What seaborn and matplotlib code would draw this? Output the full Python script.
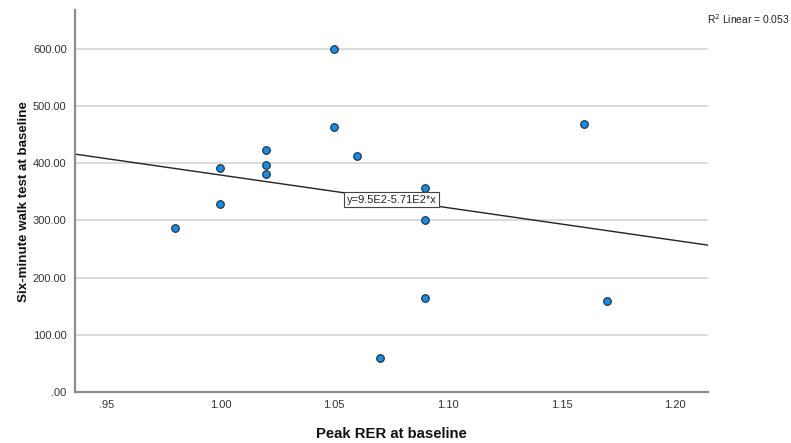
import numpy as np
import pandas as pd
import matplotlib
matplotlib.use("Agg")
import matplotlib.pyplot as plt
import seaborn as sns

# Peak RER vs six-minute walk distance at baseline
peak_rer = [0.98, 1.00, 1.00, 1.02, 1.02, 1.02, 1.05, 1.05, 1.06, 1.07, 1.09, 1.09, 1.09, 1.16, 1.17]
walk_6min = [287, 391, 328, 423, 396, 380, 600, 463, 413, 59, 356, 300, 165, 469, 159]

# Linear fit as reported
fit_intercept = 950.0
fit_slope = -571.0
r2_linear = 0.053

x_ticks = [0.95, 1.00, 1.05, 1.10, 1.15, 1.20]
x_tick_labels = [".95", "1.00", "1.05", "1.10", "1.15", "1.20"]
y_ticks = [0, 100, 200, 300, 400, 500, 600]
y_tick_labels = [".00", "100.00", "200.00", "300.00", "400.00", "500.00", "600.00"]

df = pd.DataFrame({"Peak RER at baseline": peak_rer,
                   "Six-minute walk test at baseline": walk_6min})

sns.set_theme(style="white")
plt.rcParams["font.family"] = ["Liberation Sans", "DejaVu Sans"]

fig = plt.figure(figsize=(7.91, 4.43), dpi=100)
ax = fig.add_axes([0.0948, 0.1151, 0.8003, 0.862])

xlim = (0.936, 1.2145)
ylim = (0, 667)
ax.set_xlim(*xlim)
ax.set_ylim(*ylim)

for yt in y_ticks[1:]:
    ax.axhline(yt, color="#d9d9d9", lw=1.3, zorder=0)

xs = np.array(xlim)
ax.plot(xs, fit_intercept + fit_slope * xs, color="#222222", lw=1.0, zorder=2)

sns.scatterplot(data=df, x="Peak RER at baseline", y="Six-minute walk test at baseline",
                ax=ax, s=30, color="#1a8be0", edgecolor="#1c2a3a", linewidth=0.8, zorder=3)

lx = 1.0753
ax.text(lx, fit_intercept + fit_slope * lx, "y=9.5E2-5.71E2*x", ha="center", va="center",
        fontsize=8, color="#222222", zorder=4,
        bbox=dict(boxstyle="square,pad=0.25", fc="white", ec="#444444", lw=0.8))

ax.set_xticks(x_ticks)
ax.set_xticklabels(x_tick_labels)
ax.set_yticks(y_ticks)
ax.set_yticklabels(y_tick_labels)
ax.tick_params(axis="both", labelsize=8, colors="#333333", length=0, pad=6)

for side in ["top", "right"]:
    ax.spines[side].set_visible(False)
for side in ["left", "bottom"]:
    ax.spines[side].set_color("#8c8c8c")
    ax.spines[side].set_linewidth(1.6)

ax.set_xlabel("Peak RER at baseline", fontsize=10.7, fontweight="bold", labelpad=12, color="#111111")
ax.set_ylabel("Six-minute walk test at baseline", fontsize=9.6, fontweight="bold", labelpad=2, color="#111111")

fig.text(0.894, 0.957, r"R$^{2}$ Linear = 0.053", fontsize=7.4, color="#222222", ha="left", va="center")

fig.savefig("out.png", dpi=100)
